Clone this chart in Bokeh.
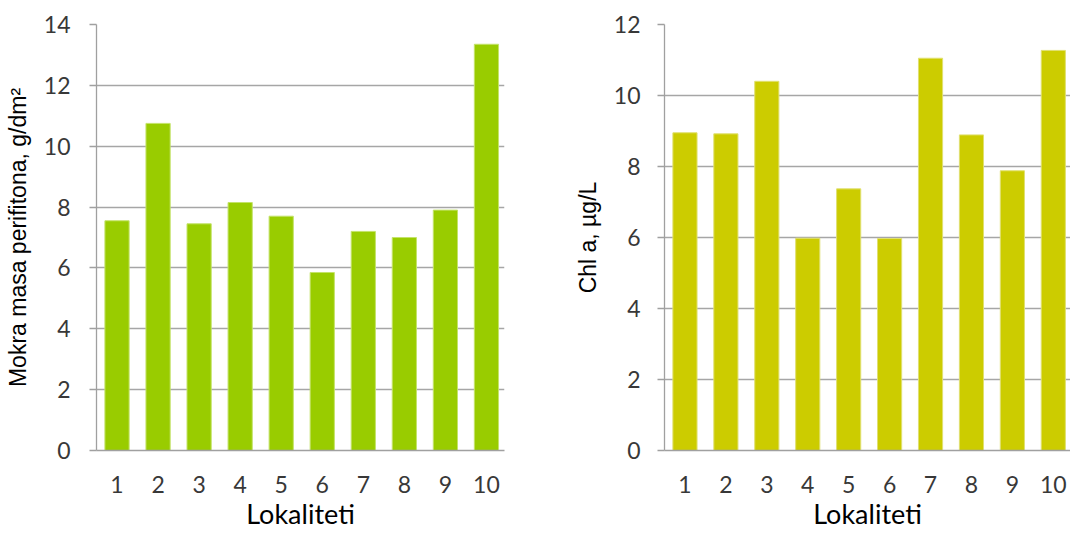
from bokeh.plotting import figure
from bokeh.models import Range1d, FixedTicker
from bokeh.layouts import row
from bokeh.embed import file_html
from bokeh.resources import INLINE

# ---- data ----
lokaliteti = ["1", "2", "3", "4", "5", "6", "7", "8", "9", "10"]
mokra_masa = [7.55, 10.75, 7.45, 8.15, 7.70, 5.85, 7.20, 7.00, 7.90, 13.35]
chl_a = [8.95, 8.92, 10.40, 5.98, 7.37, 5.97, 11.05, 8.89, 7.88, 11.27]
ticks_left = [0, 2, 4, 6, 8, 10, 12, 14]
ticks_right = [0, 2, 4, 6, 8, 10, 12]

x_pos = list(range(1, len(lokaliteti) + 1))
TICK_FONT = "Lato"
LABEL_FONT = "Liberation Sans"


def make_panel(values, color, edge, yticks, x_end, b_left, b_right,
               ytitle, ytitle_standoff, ylab_standoff):
    p = figure(width=535, height=533,
               x_range=Range1d(0.5, x_end), y_range=Range1d(0, yticks[-1]),
               output_backend="svg", toolbar_location=None,
               min_border_left=b_left, min_border_right=b_right,
               min_border_top=24, min_border_bottom=83)
    p.outline_line_color = None
    p.background_fill_color = "white"
    p.border_fill_color = "white"

    p.vbar(x=x_pos, top=values, width=0.59, bottom=0,
           fill_color=color, line_color=edge, line_width=1)

    p.xgrid.grid_line_color = None
    p.ygrid.grid_line_color = "#A6A6A6"
    p.ygrid.grid_line_width = 1.3
    p.ygrid.ticker = FixedTicker(ticks=yticks)

    p.yaxis.ticker = FixedTicker(ticks=yticks)
    p.yaxis.axis_line_color = "#A0A0A0"
    p.yaxis.axis_line_width = 1.3
    p.yaxis.major_tick_line_color = "#A0A0A0"
    p.yaxis.major_tick_line_width = 1.3
    p.yaxis.major_tick_in = 0
    p.yaxis.major_tick_out = 7
    p.yaxis.minor_tick_line_color = None
    p.yaxis.major_label_text_font = TICK_FONT
    p.yaxis.major_label_text_font_size = "23px"
    p.yaxis.major_label_text_color = "#383838"
    p.yaxis.major_label_standoff = ylab_standoff
    p.yaxis.axis_label = ytitle
    p.yaxis.axis_label_text_font = LABEL_FONT
    p.yaxis.axis_label_text_font_size = "23px"
    p.yaxis.axis_label_text_font_style = "normal"
    p.yaxis.axis_label_text_color = "black"
    p.yaxis.axis_label_standoff = ytitle_standoff

    p.xaxis.ticker = FixedTicker(ticks=x_pos)
    p.xaxis.major_label_overrides = {x: lab for x, lab in zip(x_pos, lokaliteti)}
    p.xaxis.axis_line_color = "#A0A0A0"
    p.xaxis.axis_line_width = 1.3
    p.xaxis.major_tick_line_color = None
    p.xaxis.minor_tick_line_color = None
    p.xaxis.major_tick_in = 0
    p.xaxis.major_tick_out = 0
    p.xaxis.major_label_text_font = TICK_FONT
    p.xaxis.major_label_text_font_size = "23px"
    p.xaxis.major_label_text_color = "#383838"
    p.xaxis.major_label_standoff = 25
    p.xaxis.axis_label = "Lokaliteti"
    p.xaxis.axis_label_text_font = TICK_FONT
    p.xaxis.axis_label_text_font_size = "27px"
    p.xaxis.axis_label_text_font_style = "normal"
    p.xaxis.axis_label_text_color = "black"
    p.xaxis.axis_label_standoff = 1
    return p


left = make_panel(mokra_masa, "#99CC00", "#C4E36A", ticks_left, 10.44, 96, 31,
                  "Mokra masa perifitona, g/dm\u00b2", 10, 19)
right = make_panel(chl_a, "#CCCC00", "#E0E070", ticks_right, 10.42, 129, 0,
                   "Chl a, \u00b5g/L", 10, 17)

layout = row(left, right)
open("out.html", "w").write(file_html(layout, INLINE))
